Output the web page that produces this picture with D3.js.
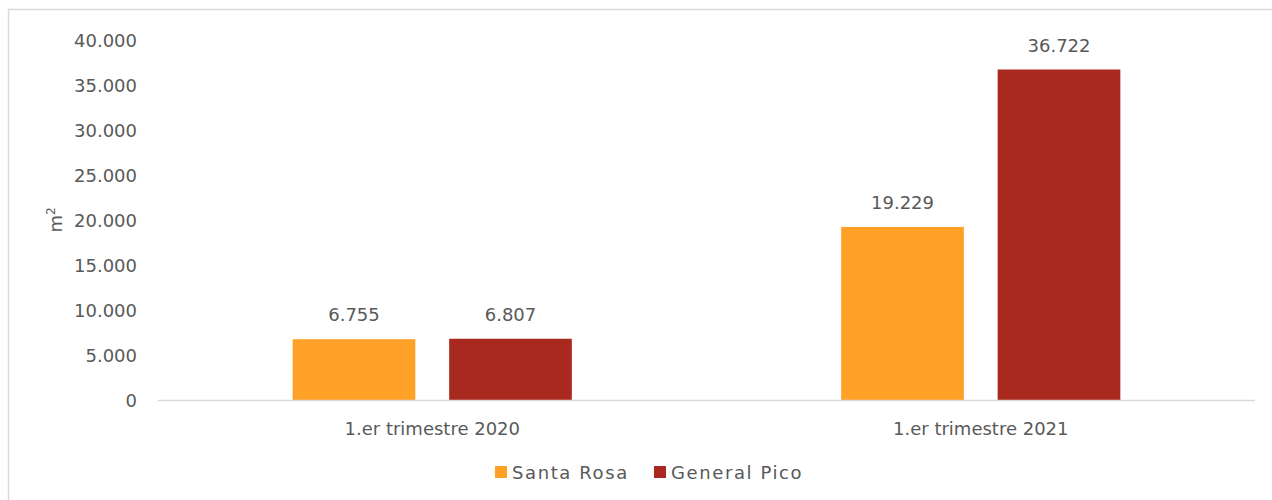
<!DOCTYPE html>
<html>
<head>
<meta charset="utf-8">
<script src="https://cdn.jsdelivr.net/npm/d3@7"></script>
<style>
  html, body { margin: 0; padding: 0; background: #fff; }
  svg { display: block; }
  text { font-family: "DejaVu Sans", sans-serif; fill: #595959; }
</style>
</head>
<body>
<svg id="chart" width="1272" height="500"></svg>
<script>
const categories = ["1.er trimestre 2020", "1.er trimestre 2021"];
const seriesNames = ["Santa Rosa", "General Pico"];
const santaRosa = [6755, 19229];
const generalPico = [6807, 36722];
const yTicks = [0, 5000, 10000, 15000, 20000, 25000, 30000, 35000, 40000];
const colors = ["#FEA126", "#A9291E"];

const seriesValues = [santaRosa, generalPico];
const fmt = v => d3.format(",")(v).replace(/,/g, ".");

const svg = d3.select("#chart");

// outer frame
svg.append("rect")
  .attr("x", 8.5).attr("y", 9.5)
  .attr("width", 1300).attr("height", 600)
  .attr("fill", "none").attr("stroke", "#D9D9D9").attr("stroke-width", 1.5);

const plotLeft = 158, plotRight = 1255, plotTop = 40, plotBottom = 400;

const y = d3.scaleLinear().domain([0, 40000]).range([plotBottom, plotTop]);
const x0 = d3.scaleBand().domain(categories).range([plotLeft, plotRight])
  .paddingInner(0.491).paddingOuter(0.2455);
const x1 = d3.scaleBand().domain(seriesNames).range([0, x0.bandwidth()])
  .paddingInner(0.216).paddingOuter(0);

// y axis labels
const yAxis = d3.axisLeft(y).tickValues(yTicks).tickFormat(fmt).tickSize(0).tickPadding(0);
const yg = svg.append("g").attr("transform", `translate(137,0)`).call(yAxis);
yg.select(".domain").remove();
yg.selectAll("text").attr("font-size", 18).attr("fill", "#595959")
  .attr("font-family", "DejaVu Sans, sans-serif").attr("dy", "0.35em");

// y title
svg.append("text")
  .attr("transform", "translate(62,220) rotate(-90)")
  .attr("text-anchor", "middle")
  .attr("font-size", 18)
  .html('m<tspan dy="-7" font-size="12">2</tspan>');

// bars
categories.forEach((cat, ci) => {
  seriesNames.forEach((s, si) => {
    const v = seriesValues[si][ci];
    const bx = x0(cat) + x1(s);
    svg.append("rect")
      .attr("x", bx).attr("y", y(v))
      .attr("width", x1.bandwidth()).attr("height", y(0) - y(v))
      .attr("fill", colors[si]);
    svg.append("text")
      .attr("x", bx + x1.bandwidth() / 2).attr("y", y(v) - 18)
      .attr("text-anchor", "middle").attr("font-size", 18)
      .text(fmt(v));
  });
});

// x axis
const xAxis = d3.axisBottom(x0).tickSize(0).tickPadding(0);
const xg = svg.append("g").attr("transform", `translate(0,${plotBottom})`).call(xAxis);
xg.select(".domain").attr("stroke", "#D9D9D9").attr("stroke-width", 1.5)
  .attr("d", `M${plotLeft},0.5H${plotRight}`);
xg.selectAll("text").attr("font-size", 18).attr("fill", "#595959")
  .attr("font-family", "DejaVu Sans, sans-serif").attr("dy", null).attr("y", 35);

// legend
const legendItems = [{name: seriesNames[0], x: 495}, {name: seriesNames[1], x: 654}];
legendItems.forEach((it, i) => {
  svg.append("rect").attr("x", it.x).attr("y", 466).attr("width", 12).attr("height", 12)
    .attr("fill", colors[i]);
  svg.append("text").attr("x", it.x + 17).attr("y", 479).attr("font-size", 18)
    .attr("letter-spacing", 1.6).text(it.name);
});
</script>
</body>
</html>
